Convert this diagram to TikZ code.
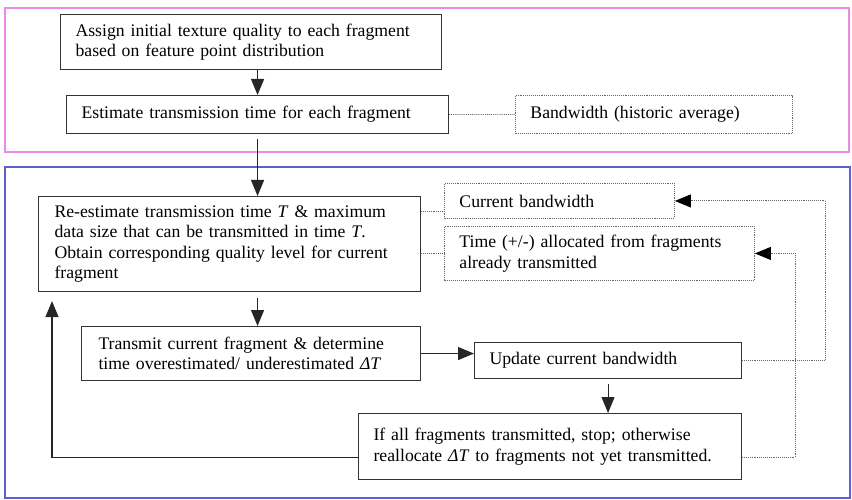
\documentclass[tikz,border=0pt]{standalone}
\usepackage{fontspec}
\setmainfont{Liberation Serif}
\usepackage{xcolor}
\usepackage{tikz}
\usetikzlibrary{arrows.meta, positioning, calc}

\definecolor{framepink}{RGB}{232,140,232}
\definecolor{frameblue}{RGB}{95,95,205}

\tikzset{
  %% Solid process box
  flowbox/.style={
    rectangle, draw=black!80, line width=1.1pt,
    anchor=north west, align=left,
    inner xsep=15pt, inner ysep=2pt,
    font=\fontsize{17.7pt}{20.5pt}\selectfont
  },
  %% Dotted input box
  dotbox/.style={
    flowbox, draw=black!60, densely dotted, line width=0.9pt
  },
  %% Arrows
  arr/.style={-{Triangle[length=16pt,width=13pt]},
              draw=black!85, line width=1.1pt},
  dotline/.style={draw=black!60, densely dotted, line width=0.9pt},
  dotarr/.style={dotline,
                 -{Triangle[length=16pt,width=13pt,color=black]}},
}

\begin{document}
\begin{tikzpicture}[x=1pt, y=1pt]

  \useasboundingbox (0,0) rectangle (852,499);

  %% Initial planning stage
  \draw[framepink, line width=1.3pt] (5,491) rectangle (849,347);

  \node[flowbox, text width=351pt, minimum height=55pt] (assign) at (60,485)
    {Assign initial texture quality to each fragment\\
     based on feature point distribution};

  \node[flowbox, text width=352pt, minimum height=38pt] (estimate) at (66,404)
    {Estimate transmission time for each fragment};

  \node[dotbox, text width=247pt, minimum height=38pt] (hist) at (515,404)
    {Bandwidth (historic average)};

  \draw[arr] (assign.south -| estimate.north) -- (estimate.north);
  \draw[dotline] (estimate.east) -- (hist.west);

  %% Per-fragment transmission loop
  \draw[frameblue, line width=1.3pt] (5,332) rectangle (850,1);

  \node[flowbox, text width=350pt, minimum height=95pt, inner xsep=16pt] (reest) at (38,303)
    {Re-estimate transmission time \textit{T} \& maximum\\
     data size that can be transmitted in time \textit{T}.\\
     Obtain corresponding quality level for current\\
     fragment};

  \node[dotbox, text width=200pt, minimum height=35pt] (curbw) at (444,316)
    {Current bandwidth};

  \node[dotbox, text width=280pt, minimum height=54pt] (timealloc) at (444,273)
    {Time (+/-) allocated from fragments\\
     already transmitted};

  \node[flowbox, text width=305pt, minimum height=54pt, inner xsep=17pt] (transmit) at (81,173)
    {Transmit current fragment \& determine\\
     time overestimated/ underestimated \textit{ΔT}};

  \node[flowbox, text width=237pt, minimum height=36pt] (update) at (474,157)
    {Update current bandwidth};

  \node[flowbox, text width=353pt, minimum height=66pt] (ifall) at (358,86)
    {If all fragments transmitted, stop; otherwise\\
     reallocate \textit{ΔT} to fragments not yet transmitted.};

  %% Main flow
  \draw[arr] ([yshift=-5pt]estimate.south) -- (reest.north -| estimate.south);
  \draw[arr] ([yshift=-6pt]reest.south -| estimate.south) -- (transmit.north -| estimate.south);
  \draw[arr] (transmit.east) -- (transmit.east -| update.west);
  \draw[arr] ([yshift=-5pt]update.south) -- (ifall.north -| update.south);

  %% Inputs to re-estimation
  \coordinate (bwtap) at ([yshift=-15pt]reest.north east);
  \draw[dotline] (bwtap) -- (bwtap -| curbw.west);
  \draw[dotline] (timealloc.west -| reest.east) -- (timealloc.west);

  %% Feedback paths
  \coordinate (bwbus) at (825,220);
  \coordinate (tabus) at (795,150);
  \coordinate (ifout) at ([yshift=-11pt]ifall.east);
  \coordinate (ifback) at ([yshift=-11pt]ifall.west);
  \coordinate (reentry) at ([xshift=14pt,yshift=-9pt]reest.south west);

  \draw[dotarr] (update.east) -| (bwbus) |- (curbw.east);
  \draw[dotarr] (ifout) -| (tabus) |- (timealloc.east);
  \draw[arr] (ifback) -| (reentry);

\end{tikzpicture}
\end{document}
